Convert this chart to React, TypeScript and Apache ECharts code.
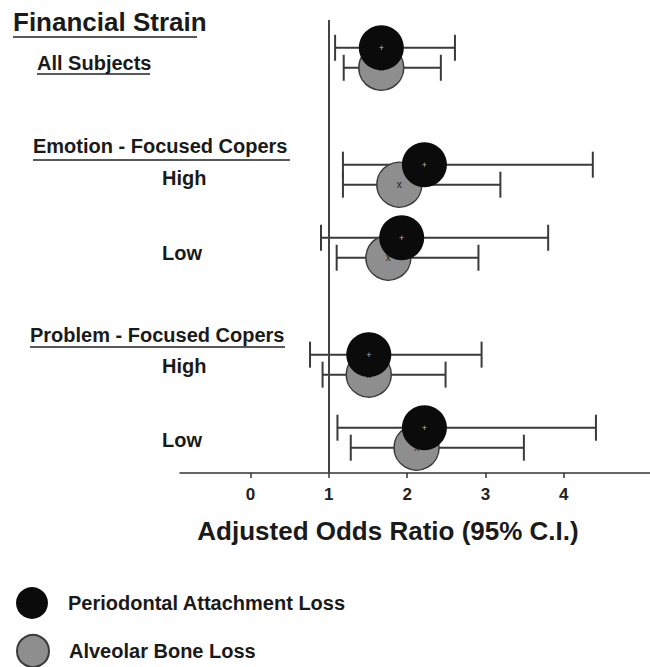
import React, { useEffect, useRef } from "react";
import * as echarts from "echarts";

// ---- data ----
const rowLabels = ["All Subjects", "High", "Low", "High", "Low"];
const rowGroup = [0, 1, 1, 2, 2];
const groupHeaders = ["Emotion - Focused Copers", "Problem - Focused Copers"];

const periodontalOR = [1.67, 2.22, 1.93, 1.51, 2.22];
const periodontalLo = [1.08, 1.18, 0.9, 0.76, 1.11];
const periodontalHi = [2.61, 4.37, 3.8, 2.95, 4.41];

const boneOR = [1.67, 1.9, 1.76, 1.51, 2.12];
const boneLo = [1.19, 1.18, 1.1, 0.92, 1.28];
const boneHi = [2.43, 3.19, 2.91, 2.49, 3.49];

const xTicks = [0, 1, 2, 3, 4];
const referenceOR = 1;

const seriesNames = ["Periodontal Attachment Loss", "Alveolar Bone Loss"];
const chartTitle = "Financial Strain";
const xAxisTitle = "Adjusted Odds Ratio (95% C.I.)";

const FONT = '"Liberation Sans", Arial, Helvetica, sans-serif';
const GROUP_GAP = 0.6;
const rowPos = rowLabels.map((_, i) => i + rowGroup[i] * GROUP_GAP);

const BONE_OFFSET = 20;
const CAP = 13;

function makeErrorRender(offset: number) {
  return (params: any, api: any) => {
    const y = api.value(0);
    const lo = api.coord([api.value(1), y]);
    const hi = api.coord([api.value(2), y]);
    const yy = lo[1] + offset;
    const style = { stroke: "#3a3a3a", lineWidth: 2 };
    return {
      type: "group",
      children: [
        { type: "line", shape: { x1: lo[0], y1: yy, x2: hi[0], y2: yy }, style },
        { type: "line", shape: { x1: lo[0], y1: yy - CAP, x2: lo[0], y2: yy + CAP }, style },
        { type: "line", shape: { x1: hi[0], y1: yy - CAP, x2: hi[0], y2: yy + CAP }, style },
      ],
    };
  };
}

function textEl(text: string, x: number, y: number, size: number) {
  return {
    type: "text",
    left: x,
    top: y - size * 0.6,
    style: {
      text,
      fill: "#1a1a1a",
      fontSize: size,
      fontWeight: "bold",
      fontFamily: FONT,
    },
  };
}

function underline(x1: number, x2: number, y: number) {
  return {
    type: "line",
    shape: { x1, y1: y, x2, y2: y },
    style: { stroke: "#222", lineWidth: 1.5 },
  };
}

function legendFor(name: string, top: number) {
  return {
    data: [name],
    orient: "vertical",
    left: 16,
    top,
    padding: 0,
    itemWidth: 34,
    itemHeight: 32,
    icon: "circle",
    textStyle: {
      color: "#1a1a1a",
      fontSize: 20,
      fontWeight: "bold",
      fontFamily: FONT,
      padding: [0, 0, 0, 14],
    },
  };
}

export default function App() {
  const ref = useRef<HTMLDivElement>(null);

  useEffect(() => {
    document.body.style.margin = "0";
    if (!ref.current) return;
    const chart = echarts.init(ref.current, undefined, { renderer: "svg" });

    const rowLabelY = [65, 180, 255, 368, 442];
    const graphics: any[] = [
      textEl(chartTitle, 13, 25, 26),
      underline(13, 197, 37),
      underline(37, 150, 74),
      textEl(groupHeaders[0], 33, 148, 20),
      underline(33, 290, 160),
      textEl(groupHeaders[1], 30, 337, 20),
      underline(30, 285, 347),
    ];
    rowLabels.forEach((lab, i) => {
      graphics.push(textEl(lab, i === 0 ? 37 : 162, rowLabelY[i], 20));
    });

    chart.setOption({
      animation: false,
      backgroundColor: "#ffffff",
      grid: { left: 180, right: 0, top: 20, bottom: 194 },
      xAxis: {
        type: "value",
        min: -0.9,
        max: 5.1,
        axisLine: { show: true, onZero: false, lineStyle: { color: "#333", width: 1.5 } },
        axisTick: { show: true, customValues: xTicks, length: 5, lineStyle: { color: "#333", width: 1.5 } },
        axisLabel: {
          customValues: xTicks,
          color: "#222",
          fontSize: 17,
          fontWeight: "bold",
          fontFamily: FONT,
          margin: 13,
        },
        splitLine: { show: false },
        name: xAxisTitle,
        nameLocation: "middle",
        nameGap: 45,
        nameTextStyle: {
          color: "#1a1a1a",
          fontSize: 26,
          fontWeight: "bold",
          fontFamily: FONT,
          padding: [0, 54, 0, 0],
        },
      },
      yAxis: {
        type: "value",
        inverse: true,
        min: -0.38,
        max: 5.82,
        show: false,
      },
      legend: [legendFor(seriesNames[0], 587), legendFor(seriesNames[1], 634)],
      graphic: graphics,
      series: [
        {
          name: "Alveolar CI",
          type: "custom",
          z: 1,
          renderItem: makeErrorRender(BONE_OFFSET),
          encode: { x: [1, 2], y: 0 },
          data: rowPos.map((p, i) => [p, boneLo[i], boneHi[i]]),
        },
        {
          name: "Periodontal CI",
          type: "custom",
          z: 1,
          renderItem: makeErrorRender(0),
          encode: { x: [1, 2], y: 0 },
          data: rowPos.map((p, i) => [p, periodontalLo[i], periodontalHi[i]]),
        },
        {
          name: seriesNames[1],
          type: "scatter",
          z: 2,
          symbol: "circle",
          symbolSize: 45,
          symbolOffset: [0, BONE_OFFSET],
          itemStyle: { color: "#8e8e8e", borderColor: "#3a3a3a", borderWidth: 1.5, opacity: 1 },
          label: {
            show: true,
            position: "inside",
            formatter: "x",
            color: "#222",
            fontSize: 10,
            fontFamily: FONT,
          },
          data: rowPos.map((p, i) => [boneOR[i], p]),
        },
        {
          name: seriesNames[0],
          type: "scatter",
          z: 3,
          symbol: "circle",
          symbolSize: 45,
          itemStyle: { color: "#0b0b0b", borderColor: "#0b0b0b", borderWidth: 0, opacity: 1 },
          label: {
            show: true,
            position: "inside",
            formatter: "+",
            color: "#bbbbbb",
            fontSize: 9,
            fontFamily: FONT,
          },
          data: rowPos.map((p, i) => [periodontalOR[i], p]),
          markLine: {
            silent: true,
            symbol: ["none", "none"],
            label: { show: false },
            lineStyle: { color: "#444", width: 2, type: "solid" },
            data: [{ xAxis: referenceOR }],
          },
        },
      ],
    });

    return () => chart.dispose();
  }, []);

  return <div ref={ref} style={{ width: 650, height: 667 }} />;
}
